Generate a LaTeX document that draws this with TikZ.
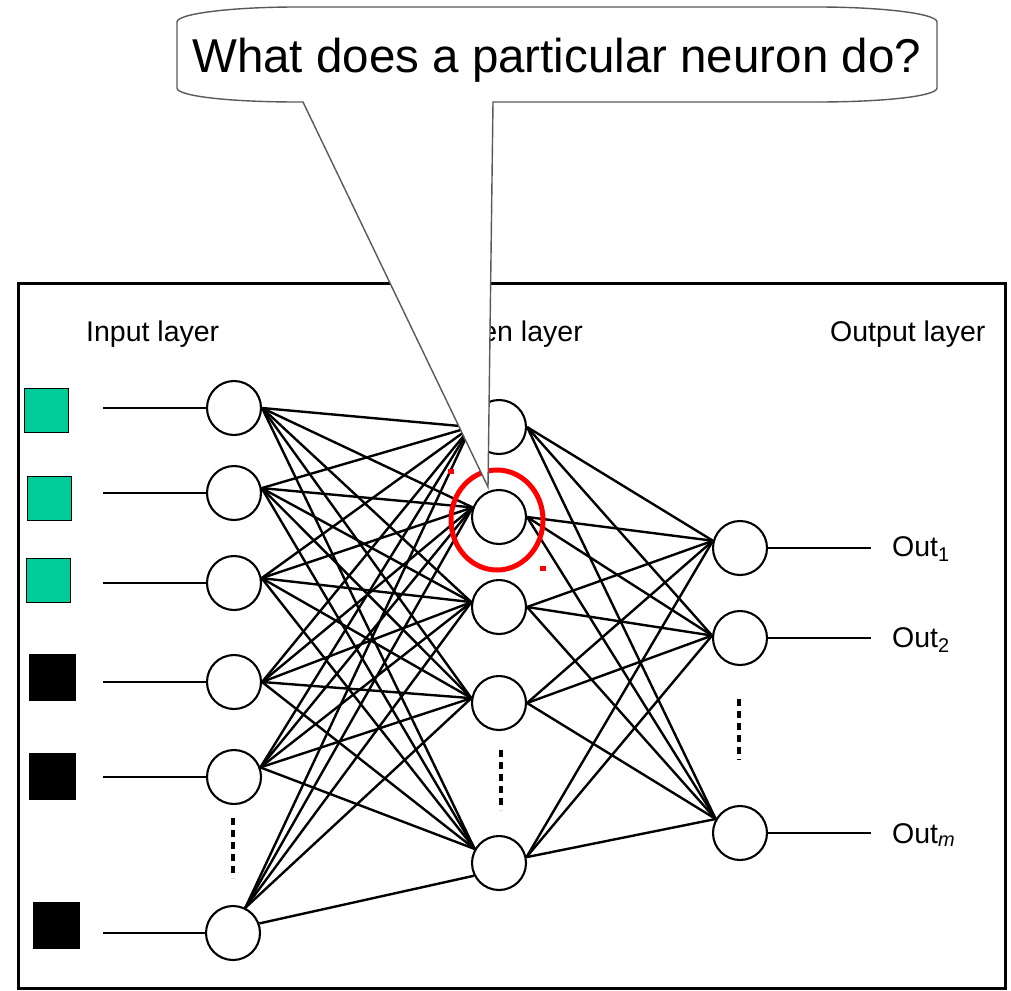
\documentclass[tikz,border=0pt]{standalone}
\usepackage{fontspec}
\setmainfont{Liberation Sans}
\usetikzlibrary{shapes.geometric}
\definecolor{tealsq}{RGB}{0,204,153}
\definecolor{redc}{RGB}{255,0,0}
\begin{document}
\begin{tikzpicture}[x=1pt,y=-1pt,
  neuron/.style={circle,draw,line width=2.1pt,fill=white,minimum size=54pt,inner sep=0pt},
  conn/.style={line width=2.4pt},
  feed/.style={line width=2.3pt},
  gsq/.style={rectangle,draw,line width=1.8pt,fill=tealsq,minimum size=44pt,inner sep=0pt},
  bsq/.style={rectangle,fill=black,minimum size=47pt,inner sep=0pt},
  lbl/.style={inner sep=0pt,font=\fontsize{28.5}{32}\selectfont},
  dots/.style={line width=3.5pt,dash pattern=on 7pt off 5pt},
  framebox/.style={line width=3pt},
  bubble/.style={draw=black!65,line width=1.4pt,fill=white},
  qtext/.style={inner sep=0pt,font=\fontsize{47.5}{52}\selectfont},
  redring/.style={draw=redc,line width=5pt,ellipse,minimum width=92pt,minimum height=100pt,inner sep=0pt},
  handle/.style={fill=redc,minimum width=6pt,minimum height=5pt,inner sep=0pt}
]
\useasboundingbox (0,0) rectangle (1011,990);
\draw[framebox] (18,283) rectangle (1005,988);

% layer titles
\node[lbl,anchor=base west] (tin) at (86,341) {Input layer};
\node[lbl,anchor=base east] (thid) at (583,341) {Hidden layer};
\node[lbl,anchor=base west] (tout) at (830,341) {Output layer};

% input squares
\node[gsq] (x1) at (46.5,410.5) {};
\node[gsq] (x2) at (49.5,498.5) {};
\node[gsq] (x3) at (48.5,580.5) {};
\node[bsq] (x4) at (52.5,677.5) {};
\node[bsq] (x5) at (52.5,776) {};
\node[bsq] (x6) at (56.5,925.5) {};

% neurons
\node[neuron] (i1) at (234,408) {};
\node[neuron] (i2) at (234,493) {};
\node[neuron] (i3) at (234,583) {};
\node[neuron] (i4) at (234,682) {};
\node[neuron] (i5) at (234,777) {};
\node[neuron] (i6) at (233,933) {};
\node[neuron] (h1) at (499,427) {};
\node[neuron] (h2) at (499,517) {};
\node[neuron] (h3) at (499,607) {};
\node[neuron] (h4) at (499,703) {};
\node[neuron] (h5) at (499,863) {};
\node[neuron] (o1) at (740,548) {};
\node[neuron] (o2) at (740,638) {};
\node[neuron] (om) at (740,833) {};

% input feeds
\foreach \k/\yy in {1/408,2/493,3/583,4/682,5/777,6/933}{
  \coordinate (s\k) at (103,\yy);
  \draw[feed] (s\k) -- (i\k);
}

% input -> hidden
\foreach \i/\a in {1/0,2/10,3/10,4/0,5/20,6/64}{
  \foreach \j/\b in {1/180,2/160,3/170,4/170}{
    \draw[conn] (i\i.\a) -- (h\j.\b);
  }
}
\foreach \i/\a in {1/0,2/10,3/10,4/0,5/20}{
  \draw[conn] (i\i.\a) -- (h5.150);
}
\draw[conn] (i6.20) -- (h5.207);

% hidden -> output
\foreach \j/\a in {1/0,2/0,3/0,4/0,5/12}{
  \foreach \k/\b in {o1/165,o2/175,om/150}{
    \draw[conn] (h\j.\a) -- (\k.\b);
  }
}

% outputs
\coordinate (e1) at (871,548);
\coordinate (e2) at (871,638);
\coordinate (em) at (871,833);
\draw[feed] (o1) -- (e1);
\draw[feed] (o2) -- (e2);
\draw[feed] (om) -- (em);
\node[lbl,anchor=base west] (l1) at (892,556) {Out\textsubscript{1}};
\node[lbl,anchor=base west] (l2) at (892,647) {Out\textsubscript{2}};
\node[lbl,anchor=base west] (lm) at (892,843) {Out\textsubscript{\itshape m}};

% ellipsis dashes
\coordinate (da1) at (233,818); \coordinate (db1) at (233,878);
\coordinate (da2) at (501,750); \coordinate (db2) at (501,810);
\coordinate (da3) at (739,699); \coordinate (db3) at (739,760);
\draw[dots] (da1) -- (db1);
\draw[dots] (da2) -- (db2);
\draw[dots] (da3) -- (db3);

% red highlight
\node[redring] (ring) at (497,520) {};
\node[handle] (hd1) at (451,471.5) {};
\node[handle] (hd2) at (543,568.5) {};

% callout
\coordinate (tip) at (488,487);
\draw[bubble] (177,88) -- (177,22) .. controls (177,13.7) and (231,7) .. (297,7)
  -- (817,7) .. controls (883,7) and (937,13.7) .. (937,22)
  -- (937,88) .. controls (937,96.3) and (883,102) .. (817,102)
  -- (493,102) -- (tip) -- (303,102) -- (297,102)
  .. controls (231,102) and (177,96.3) .. (177,88) -- cycle;
\node[qtext,anchor=base west] (q) at (192,72) {What does a particular neuron do?};
\end{tikzpicture}
\end{document}
